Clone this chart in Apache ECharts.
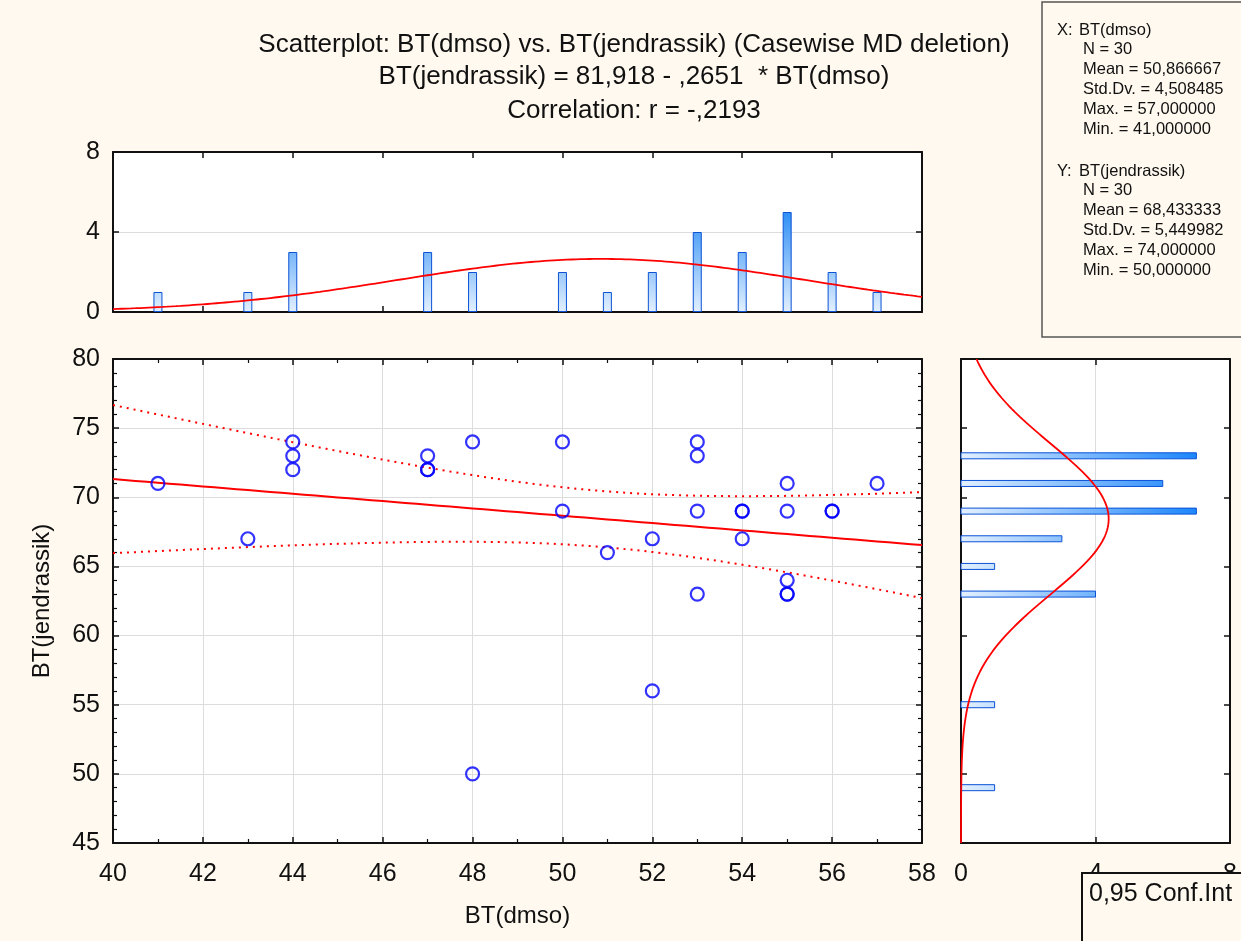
<!DOCTYPE html>
<html lang="en">
<head>
    <meta charset="UTF-8">
    <title>Scatterplot BT(dmso) vs BT(jendrassik)</title>
    <script src="https://cdn.jsdelivr.net/npm/echarts@6/dist/echarts.min.js"></script>
    <style type="text/css">
        html, body { margin: 0; padding: 0; background: #fff9ef; }
        #main { width: 1241px; height: 941px; }
    </style>
</head>
<body>
<div id="main"></div>
<script>
    // raw cases (x = BT(dmso), y = BT(jendrassik))
    var xVals = [41, 43, 44, 44, 44, 47, 47, 47, 48, 48, 50, 50, 51, 52, 52, 53, 53, 53, 53, 54, 54, 54, 55, 55, 55, 55, 55, 56, 56, 57];
    var yVals = [71, 67, 74, 73, 72, 73, 72, 72, 74, 50, 74, 69, 66, 67, 56, 74, 73, 69, 63, 69, 69, 67, 71, 69, 64, 63, 63, 69, 69, 71];

    // histogram of X (bin width 1)
    var xBins = [41, 43, 44, 47, 48, 50, 51, 52, 53, 54, 55, 56, 57];
    var xCounts = [1, 1, 3, 3, 2, 2, 1, 2, 4, 3, 5, 2, 1];
    // histogram of Y (bin width 2)
    var yBins = [73, 71, 69, 67, 65, 63, 55, 49];
    var yCounts = [7, 6, 7, 3, 1, 4, 1, 1];

    // descriptive stats shown in the box
    var statNames = ['N', 'Mean', 'Std.Dv.', 'Max.', 'Min.'];
    var xStats = ['30', '50,866667', '4,508485', '57,000000', '41,000000'];
    var yStats = ['30', '68,433333', '5,449982', '74,000000', '50,000000'];
    var xMean = 50.866667, xSd = 4.508485;
    var yMean = 68.433333, ySd = 5.449982;

    var xTicks = [40, 58, 2];
    var yTicks = [45, 80, 5];

    var chart = echarts.init(document.getElementById('main'));

    // regression + 95% band
    var n = xVals.length;
    var mx = 0, my = 0;
    for (var i = 0; i < n; i++) { mx += xVals[i]; my += yVals[i]; }
    mx /= n; my /= n;
    var sxx = 0, sxy = 0;
    for (i = 0; i < n; i++) { sxx += (xVals[i] - mx) * (xVals[i] - mx); sxy += (xVals[i] - mx) * (yVals[i] - my); }
    var slope = sxy / sxx, icpt = my - slope * mx;
    var sse = 0;
    for (i = 0; i < n; i++) { var r = yVals[i] - (icpt + slope * xVals[i]); sse += r * r; }
    var se = Math.sqrt(sse / (n - 2));
    var tCrit = 2.0484; // t(0.975, 28)

    var fitLine = [], upper = [], lower = [];
    for (var x = 40; x <= 58.001; x += 0.25) {
        var yh = icpt + slope * x;
        var h = tCrit * se * Math.sqrt(1 / n + (x - mx) * (x - mx) / sxx);
        fitLine.push([x, yh]);
        upper.push([x, yh + h]);
        lower.push([x, yh - h]);
    }

    function normal(v, m, s) {
        return Math.exp(-0.5 * (v - m) * (v - m) / (s * s)) / (s * Math.sqrt(2 * Math.PI));
    }
    var xCurve = [];
    for (x = 40; x <= 58.001; x += 0.1) xCurve.push([x, n * 1 * normal(x, xMean, xSd)]);
    var yCurve = [];
    for (var y = 45; y <= 80.001; y += 0.1) yCurve.push([n * 2 * normal(y, yMean, ySd), y]);

    var font = 'Liberation Sans, Arial, sans-serif';
    var black = '#111';

    function axis(grid, pos, range, opts) {
        var o = {
            type: 'value', gridIndex: grid, position: pos,
            min: range[0], max: range[1], interval: range[2],
            axisLine: {show: true, onZero: false, lineStyle: {color: black, width: 2}},
            axisTick: {show: true, inside: true, length: 6, lineStyle: {color: black, width: 1.5}},
            axisLabel: {show: false},
            splitLine: {show: false}
        };
        for (var k in opts) o[k] = opts[k];
        return o;
    }
    var grayLine = {show: true, showMinLine: false, showMaxLine: false, lineStyle: {color: '#dcdcdc', width: 1}};
    var minor = function (sp) {
        return {show: true, splitNumber: sp, length: 4, lineStyle: {color: black, width: 1.2}};
    };
    var yLabel = {show: true, color: black, fontSize: 25, fontFamily: font, margin: 13};
    var xLabel = {show: true, color: black, fontSize: 25, fontFamily: font, margin: 19};

    var topGrad = new echarts.graphic.LinearGradient(0, 312, 0, 212, [
        {offset: 0, color: '#e3f0ff'}, {offset: 1, color: '#2f8ff5'}], true);
    var sideGrad = new echarts.graphic.LinearGradient(961, 0, 1197, 0, [
        {offset: 0, color: '#e3f0ff'}, {offset: 1, color: '#1c86fb'}], true);

    var graphics = [];
    function txt(s, x0, y0, size, extra) {
        var st = {text: s, x: x0, y: y0, font: size + 'px ' + font, fill: black, textVerticalAlign: 'middle'};
        for (var k in extra) st[k] = extra[k];
        graphics.push({type: 'text', z: 11, style: st});
    }
    function statBlock(label, name, vals, y0) {
        txt(label, 1057, y0, 16.5);
        txt(name, 1079, y0, 16.5);
        for (var j = 0; j < vals.length; j++) {
            txt(statNames[j] + ' = ' + vals[j], 1083, y0 + (j + 1) * 19.8, 16.5);
        }
    }

    graphics.push({type: 'rect', z: 10, shape: {x: 1042, y: 2, width: 210, height: 335},
        style: {fill: '#fff9ef', stroke: '#555', lineWidth: 1.5}});
    statBlock('X:', 'BT(dmso)', xStats, 30);
    statBlock('Y:', 'BT(jendrassik)', yStats, 171);
    txt('Scatterplot: BT(dmso) vs. BT(jendrassik) (Casewise MD deletion)', 634, 45, 26, {textAlign: 'center'});
    txt('BT(jendrassik) = 81,918 - ,2651  * BT(dmso)', 634, 77, 26, {textAlign: 'center'});
    txt('Correlation: r = -,2193', 634, 111, 26, {textAlign: 'center'});
    graphics.push({type: 'rect', z: 10, shape: {x: 1082, y: 873, width: 170, height: 80},
        style: {fill: '#fff9ef', stroke: black, lineWidth: 2}});
    txt('0,95 Conf.Int', 1089, 894, 25);

    var option = {
        backgroundColor: '#fff9ef',
        animation: false,
        grid: [
            {left: 113, top: 152, width: 809, height: 160, show: true, backgroundColor: '#fff', borderWidth: 0},
            {left: 113, top: 359, width: 809, height: 484, show: true, backgroundColor: '#fff', borderWidth: 0},
            {left: 961, top: 359, width: 269, height: 484, show: true, backgroundColor: '#fff', borderWidth: 0}
        ],
        xAxis: [
            axis(0, 'bottom', xTicks, {}),
            axis(0, 'top', xTicks, {}),
            axis(1, 'bottom', xTicks, {axisLabel: xLabel, splitLine: grayLine, minorTick: minor(2),
                name: 'BT(dmso)', nameLocation: 'middle', nameGap: 61,
                nameTextStyle: {color: black, fontSize: 24, fontFamily: font}}),
            axis(1, 'top', xTicks, {minorTick: minor(2)}),
            axis(2, 'bottom', [0, 8, 4], {axisLabel: xLabel, splitLine: grayLine}),
            axis(2, 'top', [0, 8, 4], {})
        ],
        yAxis: [
            axis(0, 'left', [0, 8, 4], {axisLabel: yLabel, splitLine: grayLine}),
            axis(0, 'right', [0, 8, 4], {}),
            axis(1, 'left', yTicks, {axisLabel: yLabel, splitLine: grayLine, minorTick: minor(5),
                name: 'BT(jendrassik)', nameLocation: 'middle', nameGap: 59,
                nameTextStyle: {color: black, fontSize: 24, fontFamily: font}}),
            axis(1, 'right', yTicks, {minorTick: minor(5)}),
            axis(2, 'left', yTicks, {}),
            axis(2, 'right', yTicks, {})
        ],
        series: [
            {
                type: 'bar', xAxisIndex: 0, yAxisIndex: 0, barWidth: 9,
                data: xBins.map(function (b, k) { return [b, xCounts[k]]; }),
                itemStyle: {color: topGrad, borderColor: '#0b52d6', borderWidth: 1}
            },
            {
                type: 'line', xAxisIndex: 0, yAxisIndex: 0, data: xCurve, symbol: 'none',
                lineStyle: {color: '#ff0000', width: 1.8}, z: 5
            },
            {
                type: 'line', xAxisIndex: 2, yAxisIndex: 2, data: upper, symbol: 'none',
                lineStyle: {color: '#ff0000', width: 2, type: [2, 5]}
            },
            {
                type: 'line', xAxisIndex: 2, yAxisIndex: 2, data: lower, symbol: 'none',
                lineStyle: {color: '#ff0000', width: 2, type: [2, 5]}
            },
            {
                type: 'line', xAxisIndex: 2, yAxisIndex: 2, data: fitLine, symbol: 'none',
                lineStyle: {color: '#ff0000', width: 2}
            },
            {
                type: 'scatter', xAxisIndex: 2, yAxisIndex: 2, symbol: 'circle', symbolSize: 13,
                data: xVals.map(function (v, k) { return [v, yVals[k]]; }),
                itemStyle: {color: 'rgba(0,0,0,0)', borderColor: '#0000ff', borderWidth: 2.2}, z: 6
            },
            {
                type: 'custom', xAxisIndex: 4, yAxisIndex: 4,
                data: yBins.map(function (b, k) { return [yCounts[k], b]; }),
                renderItem: function (params, api) {
                    var p0 = api.coord([0, api.value(1)]);
                    var p1 = api.coord([api.value(0), api.value(1)]);
                    return {
                        type: 'rect',
                        shape: {x: p0[0], y: p0[1] - 3, width: p1[0] - p0[0], height: 6},
                        style: {fill: sideGrad, stroke: '#0b52d6', lineWidth: 1}
                    };
                }
            },
            {
                type: 'line', xAxisIndex: 4, yAxisIndex: 4, data: yCurve, symbol: 'none',
                lineStyle: {color: '#ff0000', width: 1.8}, z: 5
            }
        ],
        graphic: graphics
    };
    chart.setOption(option);
</script>
</body>
</html>
